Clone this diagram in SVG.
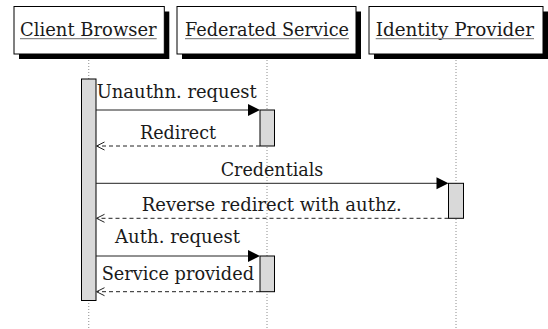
<svg xmlns="http://www.w3.org/2000/svg" width="548" height="329" viewBox="0 0 548 329">
<style>
  .box { fill: #ffffff; stroke: #000000; stroke-width: 1; }
  .shadow { fill: #000000; }
  .lbl { font-family: 'DejaVu Serif', serif; font-size: 18px; fill: #1a1a1a; }
  .ul { stroke: #8a8a8a; stroke-width: 1.4; }
  .life { stroke: #8c8c8c; stroke-width: 1; stroke-dasharray: 1 2; fill: none; }
  .act { fill: #d9d9d9; stroke: #000000; stroke-width: 1; }
  .msg { stroke: #222222; stroke-width: 1; fill: none; }
  .ret { stroke: #222222; stroke-width: 1; fill: none; stroke-dasharray: 4 3; }
  .head { fill: #000000; stroke: none; }
  .open { fill: none; stroke: #222222; stroke-width: 1; }
</style>
<rect width="548" height="329" fill="#ffffff"/>

<g id="client-browser">
  <line class="life" x1="88.75" y1="54" x2="88.75" y2="329"/>
  <rect class="shadow" x="19" y="11.5" width="150.3" height="47.5"/>
  <rect class="box" x="14" y="6.5" width="150.3" height="47.5"/>
  <text class="lbl" x="20" y="35.7" textLength="136.7" lengthAdjust="spacingAndGlyphs">Client Browser</text>
  <line class="ul" x1="20" y1="38.6" x2="156.7" y2="38.6"/>
  <rect class="act" x="81.5" y="79" width="14.5" height="221.5"/>
</g>

<g id="federated-service">
  <line class="life" x1="267" y1="54" x2="267" y2="329"/>
  <rect class="shadow" x="182" y="11.5" width="179" height="47.5"/>
  <rect class="box" x="177" y="6.5" width="179" height="47.5"/>
  <text class="lbl" x="185" y="35.7" textLength="164" lengthAdjust="spacingAndGlyphs">Federated Service</text>
  <line class="ul" x1="185" y1="38.6" x2="349" y2="38.6"/>
  <rect class="act" x="260" y="110" width="14.5" height="36"/>
  <rect class="act" x="260" y="256" width="14.5" height="35.7"/>
</g>

<g id="identity-provider">
  <line class="life" x1="456" y1="54" x2="456" y2="329"/>
  <rect class="shadow" x="374" y="11.5" width="174" height="47.5"/>
  <rect class="box" x="369" y="6.5" width="174" height="47.5"/>
  <text class="lbl" x="375.7" y="35.7" textLength="158.3" lengthAdjust="spacingAndGlyphs">Identity Provider</text>
  <line class="ul" x1="375.7" y1="38.6" x2="534" y2="38.6"/>
  <rect class="act" x="448.5" y="183.3" width="15" height="35"/>
</g>

<g id="connectors">
  <g id="m1">
    <line class="msg" x1="96" y1="110" x2="249" y2="110"/>
    <polygon class="head" points="248,104 260,110 248,116"/>
    <text class="lbl" x="96.7" y="98.3" textLength="160" lengthAdjust="spacingAndGlyphs">Unauthn. request</text>
  </g>
  <g id="m2">
    <line class="ret" x1="260" y1="146" x2="97" y2="146"/>
    <polyline class="open" points="104.5,142 96.5,146 104.5,150"/>
    <text class="lbl" x="140" y="139.3" textLength="76" lengthAdjust="spacingAndGlyphs">Redirect</text>
  </g>
  <g id="m3">
    <line class="msg" x1="96" y1="183.3" x2="437.5" y2="183.3"/>
    <polygon class="head" points="436.5,177.3 448.5,183.3 436.5,189.3"/>
    <text class="lbl" x="220.7" y="175.6" textLength="102.6" lengthAdjust="spacingAndGlyphs">Credentials</text>
  </g>
  <g id="m4">
    <line class="ret" x1="448.5" y1="218.3" x2="97" y2="218.3"/>
    <polyline class="open" points="104.5,214.3 96.5,218.3 104.5,222.3"/>
    <text class="lbl" x="141.7" y="211" textLength="260" lengthAdjust="spacingAndGlyphs">Reverse redirect with authz.</text>
  </g>
  <g id="m5">
    <line class="msg" x1="96" y1="256" x2="249" y2="256"/>
    <polygon class="head" points="248,250 260,256 248,262"/>
    <text class="lbl" x="115" y="243.3" textLength="125" lengthAdjust="spacingAndGlyphs">Auth. request</text>
  </g>
  <g id="m6">
    <line class="ret" x1="260" y1="291.7" x2="97" y2="291.7"/>
    <polyline class="open" points="104.5,287.7 96.5,291.7 104.5,295.7"/>
    <text class="lbl" x="101.7" y="280" textLength="152.3" lengthAdjust="spacingAndGlyphs">Service provided</text>
  </g>
</g>
</svg>
